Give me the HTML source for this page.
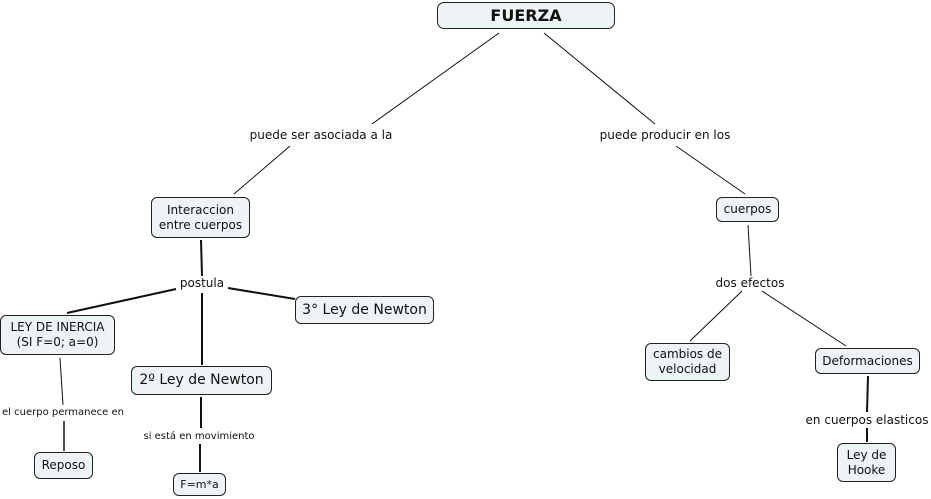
<!DOCTYPE html>
<html><head><meta charset="utf-8"><style>
body{margin:0;width:931px;height:499px;background:#fff;position:relative;overflow:hidden;font-family:"DejaVu Sans",Verdana,sans-serif;color:#111}
.b{position:absolute;box-sizing:border-box;border:1px solid #222;border-radius:6px;background:#eef3f6;display:flex;align-items:center;justify-content:center;text-align:center;font-size:12px;line-height:15px}
.l{position:absolute;font-size:12px;white-space:nowrap;transform:translate(-50%,-50%);background:#fff;line-height:14px}
svg{position:absolute;left:0;top:0}
</style></head><body>
<svg width="931" height="499">
<g stroke="#111" fill="none">
<line x1="499" y1="33" x2="372" y2="124" stroke-width="1"/>
<line x1="290" y1="146" x2="234" y2="194" stroke-width="1"/>
<line x1="544" y1="33" x2="655" y2="124" stroke-width="1"/>
<line x1="676" y1="146" x2="745" y2="194" stroke-width="1"/>
<line x1="201" y1="240" x2="202" y2="276" stroke-width="2"/>
<line x1="176" y1="289" x2="67" y2="313" stroke-width="2"/>
<line x1="228" y1="288" x2="295" y2="299" stroke-width="2"/>
<line x1="202" y1="293" x2="202" y2="365" stroke-width="2"/>
<line x1="60" y1="358" x2="63" y2="405" stroke-width="1"/>
<line x1="64" y1="421" x2="64" y2="451" stroke-width="1.5"/>
<line x1="201" y1="397" x2="201" y2="428" stroke-width="2"/>
<line x1="200" y1="444" x2="200" y2="472" stroke-width="2"/>
<line x1="748" y1="225" x2="751" y2="276" stroke-width="1"/>
<line x1="742" y1="291" x2="690" y2="341" stroke-width="1"/>
<line x1="762" y1="291" x2="846" y2="346" stroke-width="1"/>
<line x1="868" y1="376" x2="867" y2="412" stroke-width="2"/>
<line x1="867" y1="428" x2="867" y2="442" stroke-width="2"/>
</g></svg>
<div class="b" style="left:437px;top:2px;width:178px;height:27px;font-weight:bold;font-size:16px;border-radius:7px">FUERZA</div>
<div class="b" style="left:151px;top:197px;width:99px;height:41px">Interaccion<br>entre cuerpos</div>
<div class="b" style="left:0;top:315px;width:115px;height:40px">LEY DE INERCIA<br>(SI F=0; a=0)</div>
<div class="b" style="left:295px;top:296px;width:139px;height:28px;font-size:14px">3° Ley de Newton</div>
<div class="b" style="left:131px;top:366px;width:141px;height:29px;font-size:14px">2º Ley de Newton</div>
<div class="b" style="left:34px;top:452px;width:59px;height:27px">Reposo</div>
<div class="b" style="left:173px;top:473px;width:53px;height:23px;font-size:11px">F=m*a</div>
<div class="b" style="left:716px;top:197px;width:63px;height:25px">cuerpos</div>
<div class="b" style="left:645px;top:343px;width:85px;height:38px">cambios de<br>velocidad</div>
<div class="b" style="left:815px;top:348px;width:105px;height:26px">Deformaciones</div>
<div class="b" style="left:837px;top:443px;width:59px;height:39px">Ley de<br>Hooke</div>
<div class="l" style="left:321px;top:135px">puede ser asociada a la</div>
<div class="l" style="left:665px;top:135px">puede producir en los</div>
<div class="l" style="left:202px;top:283px">postula</div>
<div class="l" style="left:750px;top:283px">dos efectos</div>
<div class="l" style="left:63px;top:413px;font-size:10px">el cuerpo permanece en</div>
<div class="l" style="left:199px;top:437px;font-size:10px">si está en movimiento</div>
<div class="l" style="left:867px;top:420px">en cuerpos elasticos</div>
</body></html>
